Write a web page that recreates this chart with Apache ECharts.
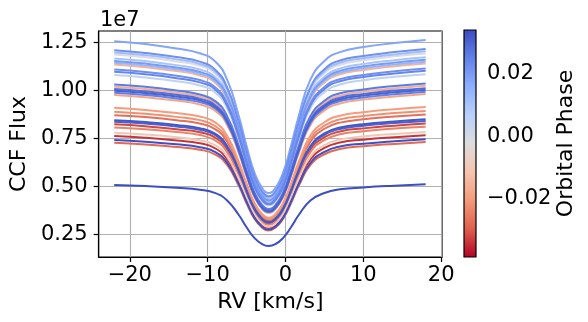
<!DOCTYPE html>
<html>
<head>
<meta charset="utf-8">
<script src="https://cdn.jsdelivr.net/npm/echarts@6/dist/echarts.min.js"></script>
<style>
html,body{margin:0;padding:0;background:#fff;}
#c{width:588px;height:322px;}
</style>
</head>
<body>
<div id="c"></div>
<script>
// RV grid (km/s)
const rv = [-22, -18, -14, -11, -9, -7.5, -6, -5, -4, -3, -2.2, -1.3, -0.3, 0.7, 1.7, 3.2, 5, 7, 10, 14, 18];

// Orbital phase of each CCF
const phases = [-0.034, -0.032, -0.028, -0.027, -0.024, -0.022, -0.020, -0.018, -0.016, -0.015, -0.010,
  -0.002, 0.005, 0.010, 0.012, 0.014, 0.018, 0.020, 0.022, 0.022, 0.024, 0.025, 0.026, 0.028, 0.030, 0.030, 0.032, 0.033, 0.0335];

// CCF flux (units of 1e7), one array per exposure, same order as phases
const f01 = [0.762,0.753,0.739,0.724,0.697,0.640,0.526,0.431,0.347,0.297,0.282,0.297,0.347,0.431,0.526,0.640,0.700,0.728,0.743,0.756,0.766];
const f02 = [0.823,0.813,0.798,0.782,0.753,0.691,0.568,0.465,0.374,0.321,0.305,0.321,0.374,0.465,0.568,0.691,0.756,0.786,0.802,0.816,0.827];
const f03 = [0.727,0.718,0.705,0.691,0.665,0.611,0.502,0.411,0.331,0.284,0.269,0.284,0.331,0.411,0.502,0.611,0.667,0.694,0.709,0.721,0.731];
const f04 = [0.871,0.861,0.845,0.827,0.797,0.732,0.601,0.492,0.396,0.340,0.322,0.340,0.396,0.492,0.601,0.732,0.800,0.832,0.849,0.864,0.875];
const f05 = [0.807,0.797,0.783,0.767,0.738,0.678,0.557,0.456,0.367,0.315,0.299,0.315,0.367,0.456,0.557,0.678,0.741,0.771,0.787,0.801,0.811];
const f06 = [0.889,0.878,0.862,0.845,0.813,0.747,0.613,0.502,0.404,0.347,0.329,0.347,0.404,0.502,0.613,0.747,0.816,0.849,0.867,0.882,0.893];
const f07 = [0.909,0.898,0.882,0.864,0.832,0.764,0.627,0.514,0.414,0.355,0.336,0.355,0.414,0.514,0.627,0.764,0.834,0.868,0.886,0.902,0.914];
const f08 = [0.976,0.964,0.947,0.927,0.893,0.820,0.673,0.551,0.444,0.381,0.361,0.381,0.444,0.551,0.673,0.820,0.896,0.932,0.952,0.968,0.981];
const f09 = [1.019,1.007,0.988,0.968,0.932,0.856,0.703,0.576,0.464,0.397,0.377,0.397,0.464,0.576,0.703,0.856,0.935,0.973,0.994,1.011,1.024];
const f10 = [1.135,1.121,1.101,1.078,1.039,0.953,0.783,0.641,0.516,0.443,0.420,0.443,0.516,0.641,0.783,0.953,1.042,1.084,1.107,1.126,1.141];
const f11 = [0.779,0.770,0.756,0.740,0.713,0.654,0.538,0.440,0.354,0.304,0.288,0.304,0.354,0.440,0.538,0.654,0.715,0.744,0.760,0.773,0.783];
const f12 = [1.187,1.173,1.151,1.128,1.086,0.997,0.819,0.671,0.540,0.463,0.439,0.463,0.540,0.671,0.819,0.997,1.090,1.134,1.157,1.178,1.193];
const f13 = [1.080,1.067,1.048,1.026,0.988,0.907,0.745,0.610,0.491,0.421,0.400,0.421,0.491,0.610,0.745,0.907,0.991,1.031,1.053,1.071,1.085];
const f14 = [1.167,1.153,1.132,1.109,1.068,0.980,0.805,0.659,0.531,0.455,0.432,0.455,0.531,0.659,0.805,0.980,1.071,1.114,1.138,1.158,1.173];
const f15 = [1.198,1.184,1.162,1.138,1.096,1.006,0.827,0.677,0.545,0.467,0.443,0.467,0.545,0.677,0.827,1.006,1.100,1.144,1.168,1.188,1.204];
const f16 = [1.144,1.130,1.110,1.087,1.047,0.961,0.789,0.646,0.521,0.446,0.423,0.446,0.521,0.646,0.789,0.961,1.050,1.093,1.115,1.135,1.150];
const f17 = [1.257,1.242,1.219,1.194,1.150,1.056,0.867,0.710,0.572,0.490,0.465,0.490,0.572,0.710,0.867,1.056,1.154,1.200,1.226,1.247,1.263];
const f18 = [1.154,1.140,1.119,1.096,1.056,0.969,0.796,0.652,0.525,0.450,0.427,0.450,0.525,0.652,0.796,0.969,1.059,1.102,1.125,1.145,1.160];
const f19 = [1.210,1.195,1.174,1.150,1.107,1.016,0.835,0.684,0.551,0.472,0.448,0.472,0.551,0.684,0.835,1.016,1.111,1.156,1.180,1.200,1.216];
const f20 = [1.109,1.096,1.076,1.054,1.015,0.932,0.765,0.627,0.505,0.433,0.410,0.433,0.505,0.627,0.765,0.932,1.018,1.059,1.081,1.100,1.115];
const f21 = [1.097,1.084,1.064,1.042,1.004,0.921,0.757,0.620,0.499,0.428,0.406,0.428,0.499,0.620,0.757,0.921,1.007,1.048,1.070,1.088,1.102];
const f22 = [0.988,0.976,0.958,0.939,0.904,0.830,0.682,0.558,0.450,0.385,0.366,0.385,0.450,0.558,0.682,0.830,0.907,0.944,0.963,0.980,0.993];
const f23 = [1.031,1.019,1.000,0.979,0.943,0.866,0.711,0.583,0.469,0.402,0.381,0.402,0.469,0.583,0.711,0.866,0.946,0.985,1.005,1.023,1.036];
const f24 = [1.007,0.995,0.977,0.957,0.921,0.846,0.695,0.569,0.458,0.393,0.373,0.393,0.458,0.569,0.695,0.846,0.924,0.962,0.982,0.999,1.012];
const f25 = [0.998,0.986,0.968,0.948,0.913,0.838,0.689,0.564,0.454,0.389,0.369,0.389,0.454,0.564,0.689,0.838,0.916,0.953,0.973,0.990,1.003];
const f26 = [0.837,0.827,0.812,0.795,0.766,0.703,0.578,0.473,0.381,0.326,0.310,0.326,0.381,0.473,0.578,0.703,0.768,0.799,0.816,0.830,0.841];
const f27 = [0.845,0.835,0.820,0.803,0.773,0.710,0.583,0.477,0.384,0.330,0.313,0.330,0.384,0.477,0.583,0.710,0.776,0.807,0.824,0.838,0.849];
const f28 = [0.741,0.732,0.719,0.704,0.678,0.622,0.511,0.419,0.337,0.289,0.274,0.289,0.337,0.419,0.511,0.622,0.680,0.708,0.722,0.735,0.745];
const f29 = [0.507,0.501,0.492,0.482,0.464,0.426,0.350,0.286,0.231,0.198,0.188,0.198,0.231,0.286,0.350,0.426,0.465,0.484,0.494,0.503,0.510];
const fluxCurves = [f01,f02,f03,f04,f05,f06,f07,f08,f09,f10,f11,f12,f13,f14,f15,f16,f17,f18,f19,f20,f21,f22,f23,f24,f25,f26,f27,f28,f29];

// Tick labels
const xTicks = [-20, -10, 0, 10, 20];
const yTicks = [0.25, 0.50, 0.75, 1.00, 1.25];
const cbTicks = [-0.02, 0.00, 0.02];
const phaseMin = -0.0385, phaseMax = 0.0338;

// matplotlib coolwarm anchors (cool -> warm)
const cw = [[59,76,192],[98,130,234],[141,176,254],[184,208,249],[221,221,221],[245,196,173],[244,154,123],[222,96,77],[180,4,38]];
function coolwarmR(p){
  let t = (p - phaseMin)/(phaseMax - phaseMin);
  t = Math.max(0, Math.min(1, t));
  const u = (1 - t) * (cw.length - 1);
  const i = Math.min(cw.length - 2, Math.floor(u));
  const f = u - i;
  const c = cw[i].map((v,k)=>Math.round(v + (cw[i+1][k]-v)*f));
  return 'rgb(' + c.join(',') + ')';
}
const minus = v => (v < 0 ? '\u2212' : '') ;
const font = 'DejaVu Sans';

const chart = echarts.init(document.getElementById('c'), null, {renderer:'canvas'});

const series = fluxCurves.map((arr, i) => ({
  type: 'line',
  xAxisIndex: 0, yAxisIndex: 0,
  data: rv.map((x, j) => [x, arr[j]]),
  showSymbol: false,
  smooth: 0.5,
  lineStyle: {width: 2, color: coolwarmR(phases[i])},
  silent: true,
  z: 2
}));

const stops = cw.map((c, k) => ({offset: k/(cw.length-1), color: 'rgb(' + c.join(',') + ')'}));
series.push({
  type: 'line',
  xAxisIndex: 1, yAxisIndex: 1,
  data: [[0, 0]],
  showSymbol: false,
  lineStyle: {width: 0, opacity: 0},
  silent: true,
  markArea: {
    silent: true,
    itemStyle: {opacity: 1, color: new echarts.graphic.LinearGradient(0,0,0,1, stops)},
    data: [[{coord: [0, phaseMax]}, {coord: [1, phaseMin]}]]
  }
});

const labelStyle = {color: '#000', fontFamily: font, fontSize: 21};

chart.setOption({
  animation: false,
  backgroundColor: '#fff',
  title: {text: '1e7', left: 95, top: 5, textStyle: {fontFamily: font, fontSize: 21, fontWeight: 'normal', color: '#000'}},
  grid: [
    {left: 96, right: 146, top: 31, bottom: 65, show: true, borderColor: '#000', borderWidth: 1.2, backgroundColor: 'transparent'},
    {left: 464, width: 12, top: 30, height: 227, show: true, borderColor: '#000', borderWidth: 1.2, z: 5}
  ],
  xAxis: [
    {type: 'value', gridIndex: 0, min: -24, max: 20.1,
     name: 'RV [km/s]', nameLocation: 'middle', nameGap: 30,
     nameTextStyle: {fontFamily: font, fontSize: 22, color: '#000'},
     axisLine: {show: true, onZero: false, lineStyle: {color: '#000', width: 1.2}},
     axisTick: {show: true, length: 5, customValues: xTicks, lineStyle: {color: '#000', width: 1.2}},
     axisLabel: Object.assign({customValues: xTicks, margin: 8, formatter: v => minus(v) + Math.abs(v)}, labelStyle),
     splitLine: {show: true, lineStyle: {color: '#b0b0b0', width: 1.1}}},
    {type: 'value', gridIndex: 1, min: 0, max: 1, show: false}
  ],
  yAxis: [
    {type: 'value', gridIndex: 0, min: 0.131, max: 1.31,
     name: 'CCF Flux', nameLocation: 'middle', nameGap: 68,
     nameTextStyle: {fontFamily: font, fontSize: 22, color: '#000'},
     axisLine: {show: true, onZero: false, lineStyle: {color: '#000', width: 1.2}},
     axisTick: {show: true, length: 5, customValues: yTicks, lineStyle: {color: '#000', width: 1.2}},
     axisLabel: Object.assign({customValues: yTicks, margin: 11, formatter: v => v.toFixed(2)}, labelStyle),
     splitLine: {show: true, lineStyle: {color: '#b0b0b0', width: 1.1}}},
    {type: 'value', gridIndex: 1, min: phaseMin, max: phaseMax, position: 'right',
     name: 'Orbital Phase', nameLocation: 'middle', nameGap: 78, nameRotate: 90,
     nameTextStyle: {fontFamily: font, fontSize: 22, color: '#000'},
     axisLine: {show: false},
     axisTick: {show: true, length: 5, customValues: cbTicks, lineStyle: {color: '#000', width: 1.2}},
     axisLabel: Object.assign({customValues: cbTicks, margin: 11, formatter: v => minus(v) + Math.abs(v).toFixed(2)}, labelStyle),
     splitLine: {show: false}}
  ],
  series: series
});
</script>
</body>
</html>
